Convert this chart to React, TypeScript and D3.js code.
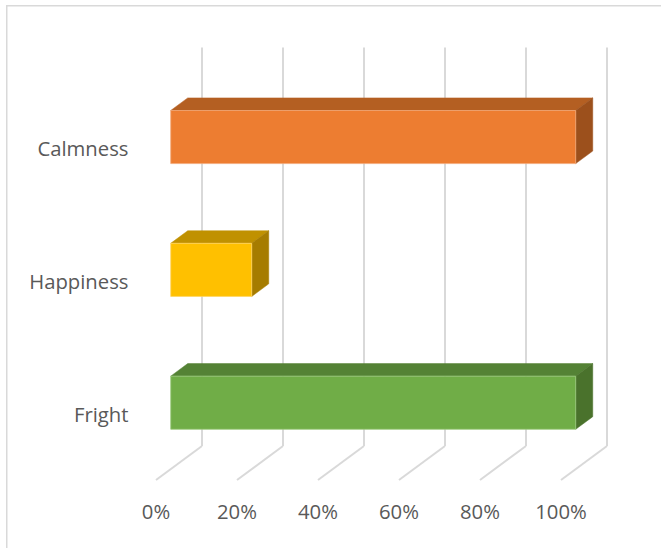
import React from "react";
import * as d3 from "d3";

const categories = ["Calmness", "Happiness", "Fright"];
const values = [1.0, 0.2, 1.0];
const frontColors = ["#ED7D31", "#FFC000", "#70AD47"];
const topColors = ["#B45F22", "#C09100", "#548235"];
const sideColors = ["#9C501C", "#A67C00", "#4A722C"];
const edgeColors = ["#F3A877", "#FFD666", "#9CC97E"];
const tickValues = [0, 0.2, 0.4, 0.6, 0.8, 1.0];

const W = 661;
const H = 548;
const X0 = 156;
const X1 = 561;
const YF = 480;
const YT = 81.5;
const DX = 46;
const DY = 34;
const DA = 0.32;
const DB = 0.69;

export default function App() {
  const x = d3.scaleLinear().domain([0, 1]).range([X0, X1]);
  const y = d3
    .scaleBand<string>()
    .domain(categories)
    .range([YT, YF])
    .paddingInner(0.6)
    .paddingOuter(0.3);
  const P = (v: number, yy: number, d: number): [number, number] => [
    x(v) + d * DX,
    yy - d * DY,
  ];
  const poly = (pts: [number, number][]) =>
    pts.map((p) => p[0].toFixed(2) + "," + p[1].toFixed(2)).join(" ");
  const fmt = d3.format(".0%");
  const font = "'Open Sans', sans-serif";

  return (
    <svg
      width={W}
      height={H}
      style={{ position: "absolute", left: 0, top: 0, background: "#fff" }}
    >
      <rect x={6.75} y={5.75} width={720} height={600} fill="#fff" stroke="#D9D9D9" strokeWidth={1.5} />
      {tickValues.map((t, i) => {
        const [fx, fy] = P(t, YF, 0);
        const [bx, by] = P(t, YF, 1);
        const [tx, ty] = P(t, YT, 1);
        return (
          <g key={"g" + i}>
            <line x1={fx} y1={fy} x2={bx} y2={by} stroke="#D9D9D9" strokeWidth={2} />
            <line x1={bx} y1={by} x2={tx} y2={ty} stroke="#D9D9D9" strokeWidth={2} />
            <text
              x={x(t)}
              y={518.5}
              textAnchor="middle"
              fontFamily={font}
              fontSize={20.3}
              fill="#595959"
            >
              {fmt(t)}
            </text>
          </g>
        );
      })}
      {categories.map((c, i) => {
        const yTop = y(c)!;
        const yBot = yTop + y.bandwidth();
        const v = values[i];
        const front = [P(0, yTop, DA), P(v, yTop, DA), P(v, yBot, DA), P(0, yBot, DA)] as [number, number][];
        const top = [P(0, yTop, DA), P(v, yTop, DA), P(v, yTop, DB), P(0, yTop, DB)] as [number, number][];
        const side = [P(v, yTop, DA), P(v, yTop, DB), P(v, yBot, DB), P(v, yBot, DA)] as [number, number][];
        const center = yTop + y.bandwidth() / 2;
        return (
          <g key={c}>
            <polygon points={poly(top)} fill={topColors[i]} stroke={topColors[i]} strokeWidth={0.5} strokeLinejoin="round" />
            <polygon points={poly(side)} fill={sideColors[i]} stroke={sideColors[i]} strokeWidth={0.5} strokeLinejoin="round" />
            <polygon points={poly(front)} fill={frontColors[i]} stroke={edgeColors[i]} strokeWidth={0.8} />
            <text
              x={128.5}
              y={center + 8.5}
              textAnchor="end"
              fontFamily={font}
              fontSize={20.3}
              fill="#595959"
            >
              {c}
            </text>
          </g>
        );
      })}
    </svg>
  );
}
